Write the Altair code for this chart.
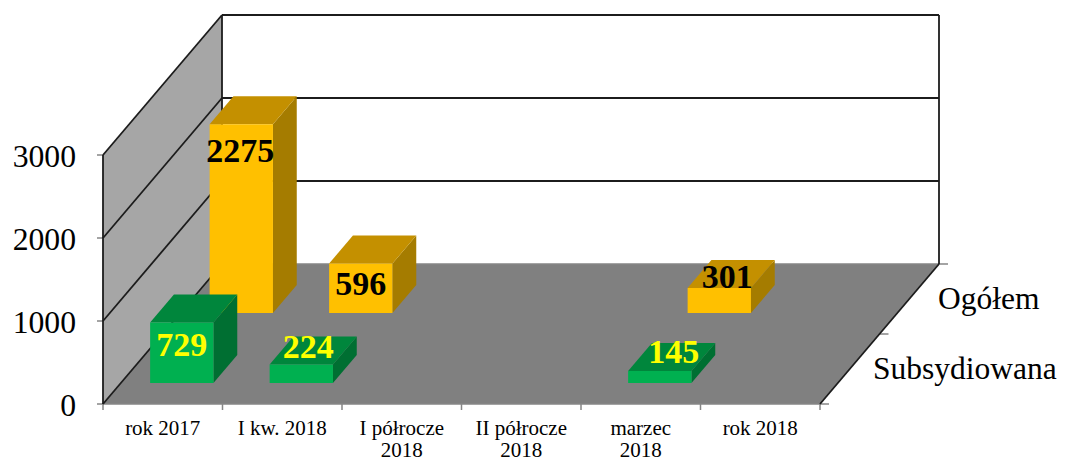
import altair as alt
import pandas as pd

# ---- values
categories = ["rok 2017", "I kw. 2018", "I półrocze\n2018", "II półrocze\n2018", "marzec\n2018", "rok 2018"]
series_names = ["Subsydiowana", "Ogółem"]
subsydiowana = [729, 224, None, None, 145, None]
ogolem = [2275, 596, None, None, 301, None]
value_ticks = [0, 1000, 2000, 3000]

# ---- oblique projection of the 3D scene (category, depth, value) to page pixels
X0, Y0 = 103.0, 404.0
CAT_W, DEPTH_X, DEPTH_Y, PER_UNIT = 119.5, 119.0, 140.0, 0.0830
VMAX = 3000
BAR_A, BAR_B = 0.245, 0.775
ROW = {"Subsydiowana": (0.15, 0.35), "Ogółem": (0.65, 0.85)}
FONT = "Liberation Serif"
DARK = "#1c1c1c"
GREY = "#868686"

COL = {
    "Subsydiowana": ("#00b050", "#006f32", "#00863c"),
    "Ogółem": ("#ffc000", "#a57c00", "#c49000"),
}
# label offset from the bar's front-top-centre (px) for each bar
LABEL_OFF = {
    ("Subsydiowana", 0): (0, 34), ("Subsydiowana", 1): (7, -6), ("Subsydiowana", 4): (14, -8),
    ("Ogółem", 0): (-1, 38), ("Ogółem", 1): (0, 31), ("Ogółem", 4): (8, 0),
}


def px(c, d, v=0.0):
    return X0 + c * CAT_W + d * DEPTH_X


def py(c, d, v=0.0):
    return Y0 - v * PER_UNIT - d * DEPTH_Y


X = alt.Scale(domain=[8, 1059], nice=False, zero=False)
Y = alt.Scale(domain=[461, 8], nice=False, zero=False)
NCAT = len(categories)


def vertical(rows):
    """rows: id, colour, x, y, y2"""
    df = pd.DataFrame(rows, columns=["id", "col", "x", "y", "y2"])
    return alt.Chart(df).mark_area(orient="vertical", interpolate="linear").encode(
        x=alt.X("x:Q", scale=X, axis=None),
        y=alt.Y("y:Q", scale=Y, axis=None),
        y2="y2:Q",
        detail="id:N",
        color=alt.Color("col:N", scale=None),
    )


def horizontal(rows):
    """rows: id, colour, y, x, x2"""
    df = pd.DataFrame(rows, columns=["id", "col", "y", "x", "x2"])
    return alt.Chart(df).mark_area(orient="horizontal", interpolate="linear").encode(
        y=alt.Y("y:Q", scale=Y, axis=None),
        x=alt.X("x:Q", scale=X, axis=None),
        x2="x2:Q",
        detail="id:N",
        color=alt.Color("col:N", scale=None),
    )


def lines(segs, color, width):
    rows = []
    for i, (a, b) in enumerate(segs):
        rows.append({"seg": i, "o": 0, "x": a[0], "y": a[1]})
        rows.append({"seg": i, "o": 1, "x": b[0], "y": b[1]})
    return alt.Chart(pd.DataFrame(rows)).mark_line(color=color, strokeWidth=width).encode(
        x=alt.X("x:Q", scale=X, axis=None),
        y=alt.Y("y:Q", scale=Y, axis=None),
        detail="seg:N",
        order="o:Q",
    )


def texts(rows, **kw):
    df = pd.DataFrame(rows, columns=["x", "y", "t"])
    return alt.Chart(df).mark_text(font=FONT, baseline="alphabetic", **kw).encode(
        x=alt.X("x:Q", scale=X, axis=None),
        y=alt.Y("y:Q", scale=Y, axis=None),
        text="t:N",
    )


# ---- walls and floor
wall = vertical([
    ("w", "#a6a6a6", px(0, 0), py(0, 0, VMAX), py(0, 0)),
    ("w", "#a6a6a6", px(0, 1), py(0, 1, VMAX), py(0, 1)),
])
floor = horizontal([
    ("f", "#808080", py(0, 1), px(0, 1), px(NCAT, 1)),
    ("f", "#808080", py(0, 0), px(0, 0), px(NCAT, 0)),
])

# ---- grid, edges, ticks
dark = []
for v in value_ticks[1:]:
    dark.append(((px(0, 0), py(0, 0, v)), (px(0, 1), py(0, 1, v))))
    dark.append(((px(0, 1), py(0, 1, v)), (px(NCAT, 1), py(0, 1, v))))
dark.append(((px(0, 0), py(0, 0)), (px(0, 1), py(0, 1))))
dark.append(((px(0, 1), py(0, 1, VMAX)), (px(0, 1), py(0, 1))))
dark.append(((px(NCAT, 1), py(0, 1, VMAX)), (px(NCAT, 1), py(0, 1))))
dark.append(((px(0, 0), py(0, 0, VMAX)), (px(0, 0), py(0, 0))))
dark.append(((px(NCAT, 0), py(0, 0)), (px(NCAT, 1), py(0, 1))))

grey = [((px(0, 1), py(0, 1)), (px(NCAT, 1), py(0, 1))),
        ((px(0, 0), py(0, 0)), (px(NCAT, 0), py(0, 0)))]
for v in value_ticks:
    grey.append(((px(0, 0) - 6, py(0, 0, v)), (px(0, 0), py(0, 0, v))))
for c in range(NCAT + 1):
    grey.append(((px(c, 0), py(0, 0)), (px(c, 0), py(0, 0) + 6)))
for d in (0, 0.5, 1):
    grey.append(((px(NCAT, d), py(0, d)), (px(NCAT, d) + 9, py(0, d))))

layers = [wall, floor, lines(grey, GREY, 1.5), lines(dark, DARK, 1.8)]


# ---- bars (back row first)
def bars(name, values):
    d0, d1 = ROW[name]
    front, side, top = COL[name]
    vr, hr, vs = [], [], []
    for c, v in enumerate(values):
        if v is None:
            continue
        a, b = c + BAR_A, c + BAR_B
        vr += [(f"f{c}", front, px(a, d0), py(c, d0, v), py(c, d0)),
               (f"f{c}", front, px(b, d0), py(c, d0, v), py(c, d0))]
        vs += [(f"s{c}", side, px(b, d0), py(c, d0, v), py(c, d0)),
               (f"s{c}", side, px(b, d1), py(c, d1, v), py(c, d1))]
        hr += [(f"t{c}", top, py(c, d1, v), px(a, d1), px(b, d1)),
               (f"t{c}", top, py(c, d0, v), px(a, d0), px(b, d0))]
    return [vertical(vs), horizontal(hr), vertical(vr)]


layers += bars("Ogółem", ogolem)
layers += bars("Subsydiowana", subsydiowana)

# ---- text


def value_labels(name, values, color):
    d0 = ROW[name][0]
    rows = []
    for c, v in enumerate(values):
        if v is None:
            continue
        ox, oy = LABEL_OFF[(name, c)]
        rows.append((px(c + (BAR_A + BAR_B) / 2, d0) + ox, py(c, d0, v) + oy, str(v)))
    return texts(rows, align="center", fontSize=34, fontWeight="bold", color=color)


layers += [
    value_labels("Ogółem", ogolem, "#000000"),
    value_labels("Subsydiowana", subsydiowana, "#ffff00"),
    texts([(76, py(0, 0, v) + 12, str(v)) for v in value_ticks], align="right", fontSize=31.7, color="#000000"),
    texts([(px(c + 0.5, 0), 435, t) for c, t in enumerate(categories)], align="center",
          fontSize=21, lineBreak="\n", lineHeight=22, color="#000000"),
    texts([(938, 309, series_names[1]), (873, 379, series_names[0])], align="left", fontSize=31.5, color="#000000"),
]

chart = alt.layer(*layers).properties(
    width=1051, height=453, padding=0,
    autosize=alt.AutoSizeParams(type="none"),
    background="#ffffff",
).configure_view(stroke=None)

chart.save("out.html", embed_options={"renderer": "svg", "actions": False})
